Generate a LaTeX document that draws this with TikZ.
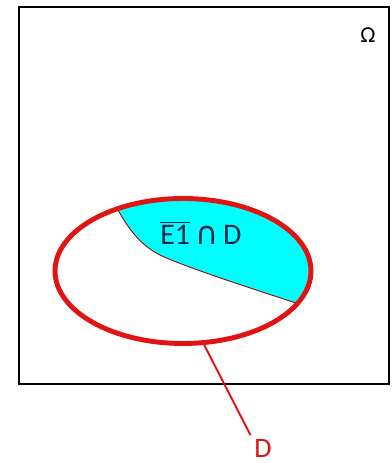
\documentclass[tikz,border=0pt]{standalone}
\usepackage{fontspec}
\setmainfont{Carlito}
\newfontfamily\symfont{DejaVu Sans}
\usepackage{xcolor}
\usetikzlibrary{shapes.geometric}
\definecolor{setred}{RGB}{225,20,20}
\definecolor{setcyan}{RGB}{0,255,255}
\definecolor{labelblue}{RGB}{15,40,70}

\begin{document}
\begin{tikzpicture}[x=0.02cm, y=0.02cm,
      lab/.style={inner sep=2pt, font=\fontsize{15}{18}\selectfont},
      setline/.style={draw=setred, line width=2.8pt}
    ]
      \useasboundingbox (0,0) rectangle (392,463);
      \node[draw, line width=1.1pt, minimum width=7.4cm, minimum height=7.54cm,
            inner sep=0, anchor=south west] (omega) at (18,78) {};
      \node[lab, font=\fontsize{13}{16}\selectfont] (omlab) at (368,428) {Ω};
      % shaded part of D
      \begin{scope}
        \clip (183,192) ellipse [x radius=128, y radius=72.5];
        \fill[setcyan] (100,275) -- (118,253) .. controls (128,235) and (140,218) .. (160,208)
          .. controls (185,196) and (250,175) .. (296,160) -- (330,150) -- (330,275) -- cycle;
      \end{scope}
      \draw[red!60!black, line width=0.5pt] (118,253) .. controls (128,235) and (140,218) .. (160,208)
          .. controls (185,196) and (250,175) .. (296,160);
      \node[ellipse, setline, minimum width=5.12cm, minimum height=2.9cm, inner sep=0] (ell) at (183,192) {};
      \node[lab, text=labelblue, font=\fontsize{17}{20}\selectfont] (inter) at (201,230)
        {$\overline{\mbox{E1}}$\,{\symfont\fontsize{18}{20}\selectfont ∩}\,D};
      \node[lab, text=setred, font=\fontsize{16}{19}\selectfont] (dlab) at (263,15) {D};
      \draw[setred, line width=1.1pt] (ell.-74) -- (dlab.north west);
    \end{tikzpicture}
\end{document}
